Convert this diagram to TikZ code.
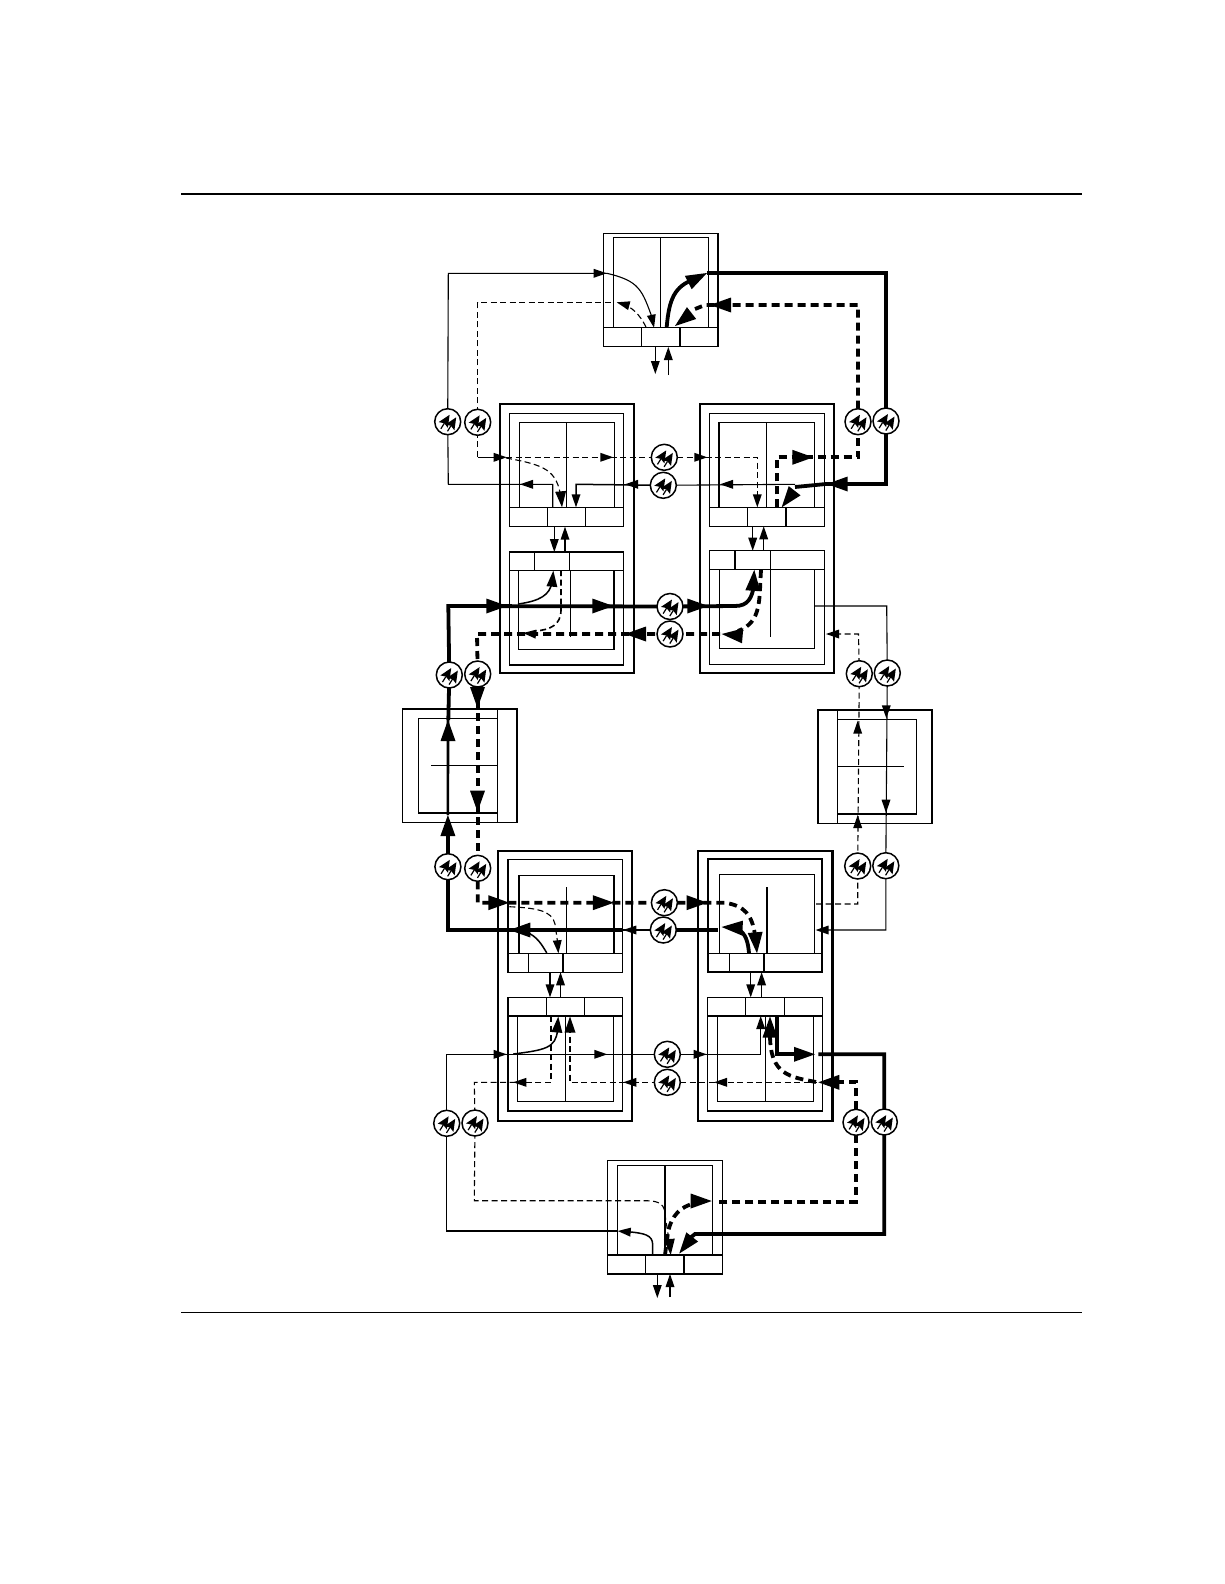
\documentclass[tikz,border=0pt]{standalone}
\usetikzlibrary{calc}
\tikzset{x=1pt,y=-1pt,
 thinl/.style={line width=1.1pt},
 thind/.style={line width=1.1pt,dash pattern=on 6pt off 3.5pt},
 medl/.style={line width=1.5pt},
 medd/.style={line width=1.6pt,dash pattern=on 6pt off 3.5pt},
 fatl/.style={line width=3.8pt},
 fatd/.style={line width=3.8pt,dash pattern=on 8pt off 5pt},
 ampc/.style={circle,draw,line width=1.5pt,fill=white,minimum size=26pt,inner sep=0pt,outer sep=0pt},
 boxn/.style={draw,inner sep=0pt,outer sep=0pt,line join=miter}
}
\newcommand\bx[6]{\node[boxn,line width=#6,minimum width={(#4-#2)*1pt},minimum height={(#5-#3)*1pt}] (#1) at ({(#2+#4)/2},{(#3+#5)/2}) {};}
\newcommand\hd[5]{\fill[shift={(#1)},rotate=#2] (0,0)--(-#3,#4/2)--(-#3,-#4/2)--cycle;}
\newcommand\hdT[2]{\hd{#1}{#2}{13}{9}{}}
\newcommand\hdM[2]{\hd{#1}{#2}{16}{11}{}}
\newcommand\hdF[2]{\hd{#1}{#2}{21}{15}{}}
\newcommand\ampn[2]{\node[ampc] (#1) at (#2) {};
 \begin{scope}[shift={(#1.center)}]
 \foreach \ox/\oy in {-2.6/0.3,4/2.8}{
 \begin{scope}[shift={(\ox,\oy)},rotate=58]
 \fill (8.5,0)--(-3.5,5.4)--(-1.5,0)--(-3.5,-5.4)--cycle;
 \draw[line width=1.2pt] (-1.5,0)--(-8,0);
 \end{scope}}
 \end{scope}}
\begin{document}
\begin{tikzpicture}
\useasboundingbox (0,0) rectangle (1224,1584);
\fill[white] (0,0) rectangle (1224,1584);
% page rules
\coordinate (rtl) at (181,194); \coordinate (rtr) at (1082,194);
\draw[line width=1.6pt] (rtl)--(rtr);
\coordinate (rbl) at (181,1312.7); \coordinate (rbr) at (1082,1312.7);
\draw[line width=0.9pt] (rbl)--(rbr);

% ---- top terminal
\bx{tO}{603.3}{233.3}{718}{346.7}{1.1pt}
\bx{tI}{613.3}{237.7}{708.3}{327.7}{1.4pt}
\draw[line width=1.5pt] (603.3,327.7)--(718,327.7) (660.7,237.7)--(660.7,327.7)
 (641.7,327.7)--(641.7,346.7) (680,327.7)--(680,346.7);
% ---- bottom terminal
\bx{bO}{607.3}{1160.3}{722.3}{1274}{1.1pt}
\bx{bI}{617.7}{1165.3}{712.3}{1255}{1.4pt}
\draw[line width=1.5pt] (607.3,1255)--(722.3,1255) (665,1165.3)--(665,1255)
 (645.7,1255)--(645.7,1274) (684,1255)--(684,1274);

% ---- upper left unit
\bx{ulO}{500}{404}{633.7}{673.3}{2.2pt}
\bx{ulMa}{509.3}{413.3}{623.3}{526.7}{1.2pt}
\bx{ulMb}{509.3}{552}{623.3}{665}{1.2pt}
\draw[line width=1.2pt] (509.3,507.3)--(623.3,507.3) (509.3,570.7)--(623.3,570.7);
\draw[line width=1.2pt] (547.3,507.3)--(547.3,526.7) (585.7,507.3)--(585.7,526.7)
 (534.7,552)--(534.7,570.7) (569.7,552)--(569.7,570.7);
\draw[line width=1.3pt] (519.3,507.3)--(519.3,422.7)--(614.3,422.7)--(614.3,507.3) (566.7,422.7)--(566.7,507.3);
\draw[line width=1.1pt] (518.7,570.7)--(518.7,649.3)--(614,649.3)--(614,570.7);
\draw[line width=1.3pt] (570.7,570.7)--(570.7,636.7);
% ---- upper right unit
\bx{urO}{700}{404}{833.7}{673.3}{2.2pt}
\bx{urMa}{709.3}{413.3}{824.3}{526.3}{1.2pt}
\bx{urMb}{709.3}{550.7}{824.3}{664.3}{1.2pt}
\draw[line width=1.2pt] (709.3,507.3)--(824.3,507.3) (709.3,569.3)--(824.3,569.3);
\draw[line width=1.2pt] (747.3,507.3)--(747.3,526.3) (786,507.3)--(786,526.3)
 (735,550.7)--(735,569.3) (770.7,550.7)--(770.7,569.3);
\draw[line width=1.3pt] (719,507.3)--(719,422.7)--(814.7,422.7)--(814.7,507.3);
\draw[line width=0.9pt] (766.7,422.7)--(766.7,507.3);
\draw[line width=1.1pt] (719.7,569.3)--(719.7,648.3)--(814.7,648.3)--(814.7,569.3);
\draw[line width=0.9pt] (770.7,569.3)--(770.7,636.7);
% ---- lower left unit
\bx{llO}{498}{851}{632.3}{1120.7}{2.2pt}
\bx{llMa}{508}{859.3}{622.3}{972.3}{1.1pt}
\bx{llMb}{508}{997.3}{622.3}{1111}{1.5pt}
\draw[line width=1.1pt] (508,953.3)--(622.3,953.3) (508,1016)--(622.3,1016);
\draw[line width=1.1pt] (528.2,953.3)--(528.2,972.3) (563,953.3)--(563,972.3)
 (546.7,997.3)--(546.7,1016) (584.3,997.3)--(584.3,1016);
\draw[line width=1.2pt] (519,953.3)--(519,875.3)--(613.9,875.3)--(613.9,953.3);
\draw[line width=0.9pt] (566.5,887.3)--(566.5,953.3);
\draw[line width=1.2pt] (517.7,1016)--(517.7,1101.3)--(613.3,1101.3)--(613.3,1016);
\draw[line width=0.9pt] (565.7,1016)--(565.7,1101.3);
% ---- lower right unit
\bx{lrO}{698}{851}{832.3}{1120.7}{2.4pt}
\bx{lrMa}{707.7}{859}{822.3}{972.3}{1.7pt}
\bx{lrMb}{707.7}{997.3}{822.3}{1111}{1.5pt}
\draw[line width=1.1pt] (707.7,953.3)--(822.3,953.3) (707.7,1016)--(822.3,1016);
\draw[line width=1.1pt] (729.3,953.3)--(729.3,972.3) (764,953.3)--(764,972.3)
 (745.7,997.3)--(745.7,1016) (784.3,997.3)--(784.3,1016);
\draw[line width=0.9pt] (719.8,953.3)--(719.8,874.3)--(814.6,874.3)--(814.6,953.3);
\draw[line width=1.3pt] (767,887.3)--(767,953.3);
\draw[line width=1.2pt] (717.3,1016)--(717.3,1101.3)--(813.3,1101.3)--(813.3,1016);
\draw[line width=0.9pt] (765.3,1016)--(765.3,1101.3);
% ---- left side box
\bx{lsO}{402.3}{709}{517}{822.3}{1.2pt}
\bx{lsI}{418.8}{718.3}{497.7}{813}{1.3pt}
\draw[line width=1.3pt] (497.7,709)--(497.7,822.3);
\draw[line width=0.8pt] (431.4,765.3)--(497.7,765.3);
% ---- right side box
\bx{rsO}{818}{710}{932}{823.3}{1.4pt}
\bx{rsI}{837.4}{719.3}{916.3}{814}{1.3pt}
\draw[line width=1.3pt] (837.4,710)--(837.4,823.3);
\draw[line width=0.8pt] (837.4,766.3)--(904,766.3);

% ---- amplifier positions
\coordinate (a1) at (447.7,421.7); \coordinate (a2) at (477.7,422.3);
\coordinate (a3) at (858,421.7); \coordinate (a4) at (886,421);
\coordinate (a5) at (664.3,457.3); \coordinate (a6) at (663.3,485.3);
\coordinate (a7) at (670,606.5); \coordinate (a8) at (670,634);
\coordinate (a9) at (449.3,675); \coordinate (a10) at (477.7,674);
\coordinate (a11) at (859.3,673.7); \coordinate (a12) at (887.3,673);
\coordinate (a13) at (447.9,866.7); \coordinate (a14) at (477.7,868.3);
\coordinate (a15) at (857.7,866); \coordinate (a16) at (885.8,865.7);
\coordinate (a17) at (664.4,902.7); \coordinate (a18) at (663.3,930);
\coordinate (a19) at (667.3,1054.3); \coordinate (a20) at (667.3,1082.3);
\coordinate (a21) at (446.7,1123.3); \coordinate (a22) at (475,1123);
\coordinate (a23) at (856,1122.3); \coordinate (a24) at (884.3,1122);

% ---- add/drop stubs
\draw[thinl] (655.3,346.7)--(655.3,364); \hdT{655.3,374}{-90}
\draw[thinl] (668.3,375)--(668.3,355); \hdT{668.3,347}{90}
\draw[thinl] (657.3,1274)--(657.3,1288); \hdT{657.3,1298}{-90}
\draw[medl] (670,1297)--(670,1284); \hdT{670,1274}{90}
\draw[medl] (554.3,526.7)--(554.3,542); \hdT{554.3,552}{-90}
\draw[medl] (565,552)--(565,536); \hdT{565,526.7}{90}
\draw[medl] (752.7,526.3)--(752.7,541); \hdT{752.7,550.7}{-90}
\draw[thinl] (763.7,550.7)--(763.7,536); \hdT{763.7,526.3}{90}
\draw[medl] (550,972.3)--(550,987); \hdT{550,997.3}{-90}
\draw[thinl] (560.5,997.3)--(560.5,982); \hdT{560.5,972.3}{90}
\draw[medl] (750.7,972.3)--(750.7,987); \hdT{750.7,997.3}{-90}
\draw[thinl] (761.6,997.3)--(761.6,982); \hdT{761.6,972.3}{90}

% ---- top loop
\draw[thinl] (a1)--(448.3,273.3)--(606.7,273.3) .. controls (640,281) and (642,290) .. (653,320);
\hdT{606.7,273.3}{0} \hdT{654,327.7}{-78}
\draw[thind] (a2)--(477.7,302.3)--(612,302.3);
\draw[thind] (646,327) .. controls (640,315) and (632,306) .. (620,303.5); \hdT{616.7,302.3}{165}
\draw[thind] (a2)--(477.7,457.3)--(500,457.3);
\draw[thind] (506,458) .. controls (545,465) and (557,470) .. (561,498);
\hdT{506.7,457.3}{0} \hdM{562,507.3}{-85}
\draw[thind] (477.7,457.3)--(a5)--(757.3,457.3)--(757.3,500); \hdT{613.3,457.3}{0} \hdT{707.3,457.3}{0} \hdT{757.3,507.3}{-90}
\draw[thinl] (a1)--(448.3,484.3)--(552.7,484.3)--(552.7,507.3); \hdT{520,484.3}{180}
\draw[medl] (576,500)--(576,484.3)--(a6); \hdT{576,507.3}{-90} \hdT{625,484.3}{180}
\draw[thinl] (a6)--(795,484.3); \hdT{720,484.3}{180}
\draw[fatl,line join=miter] (a4)--(886,272.7)--(706.7,272.7);
\draw[fatl] (666.7,327) .. controls (669,300) and (674,286) .. (695,279);
\hdF{707,273}{27}
\draw[fatl,line join=miter] (a4)--(886,484)--(826,484)--(795,487);
\hdF{826.7,484}{180} \hdF{781.7,507.3}{-128}
\draw[fatd] (a3)--(858,305)--(705,305)--(695,309);
\hdF{710,305}{180} \hdF{675,326}{-142}
\draw[fatd] (776.7,507.3)--(776.7,457.3)--(858,457.3)--(a3);
\hdF{813.3,457.3}{0}

% ---- middle upper row
\draw[fatl,line join=miter] (a9)--(448.3,606)--(a7)--(735,606) .. controls (748,606) and (752,598) .. (754,585);
\hdF{507.3,606}{0} \hdF{613.3,606}{0} \hdF{708.3,606}{0} \hdF{754.3,569.8}{86}
\draw[medl] (518,604) .. controls (540,601) and (550,595) .. (552,582); \hdM{553.3,570.7}{85}
\draw[fatd] (761,570) .. controls (759,600) and (762,622) .. (738,631);
\hdF{721.7,634}{175}
\draw[fatd] (720,634)--(a8)--(477,634)--(a10);
\hdF{625,634}{180}
\draw[medd] (561,570)--(561,610) .. controls (561,625) and (550,630) .. (535,631); \hdT{523,633}{175}
% ---- through left box
\draw[fatd] (a10)--(a14); \hdF{477.5,708}{-90} \hdF{477.5,811.7}{-90}
\draw[fatl] (a9)--(448.3,720);
\draw[line width=2.6pt] (448,720)--(447.9,815);
\draw[fatl] (a13)--(447.9,820);
\hdF{448,720}{90} \hdF{447.9,815}{90}
% ---- right upper
\draw[thinl] (815,606)--(886.7,606)--(a12)--(a16)--(885.8,930)--(820,930);
\hdT{886.3,718.3}{-90} \hdT{886,812.7}{-90} \hdT{815.6,930}{180}
\draw[thind] (a11)--(858.5,634)--(830,634); \hdT{826,634}{180}
\draw[thind] (a11)--(a15)--(857.7,904)--(814.6,904);
\hdT{857.7,720.7}{90} \hdT{857.7,815}{90}
% ---- lower middle rows
\draw[fatd] (a14)--(477.7,902.7)--(a17)--(725,902.7) .. controls (745,906) and (752,915) .. (755,935);
\draw[fatl,line join=miter] (a13)--(447.9,930)--(623,930);
\hdF{509.3,902.7}{0} \hdF{613.9,902.7}{0} \hdF{707.5,902.7}{0} \hdF{757,953.3}{-85}
\hdF{509.3,930}{180}
\draw[thinl] (623,930)--(a18); \hdT{623.3,930}{180}
\draw[fatl] (a18)--(718,930);
\hdF{721.6,927}{177}
\draw[fatl] (749,953) .. controls (748,942) and (746,934) .. (738,929);
\draw[medl] (546.8,953) .. controls (542,945) and (537,936) .. (526,932);
\draw[thind] (509.3,906.7) .. controls (535,908) and (552,910) .. (555,924)--(558,945);
\hdT{558.4,953.3}{-85}
% ---- lower unit rows
\draw[thinl] (a21)--(446.7,1054.3)--(a19)--(760.7,1054.3)--(760.7,1025);
\hdT{506.7,1054.3}{0} \hdT{607.3,1054.3}{0} \hdT{706.7,1054.3}{0} \hdT{760.7,1016}{90}
\draw[medl] (513.3,1054) .. controls (545,1050) and (556,1048) .. (557.5,1030); \hdM{558.3,1016.5}{85}
\draw[thind] (a22)--(474.3,1082.3)--(520,1082.3); \hdT{513.3,1082.3}{180}
\draw[medd] (551,1016)--(551,1082.3)--(520,1082.3);
\draw[medd] (570,1027)--(570,1082.3)--(623,1082.3); \hdM{570,1016.5}{90}
\draw[thind] (623,1082.3)--(a20)--(816.7,1082.3); \hdT{623.3,1082.3}{180} \hdT{714,1082.3}{180}
\draw[fatd] (a23)--(856,1082.3)--(825,1082.3);
\hdF{818.3,1082.3}{180}
\draw[fatd] (816,1082) .. controls (790,1077) and (770,1075) .. (770,1035);
\hdF{770,1016.5}{90}
\draw[fatl,line join=miter] (776.7,1016)--(776.7,1054.3)--(800,1054.3);
\hdF{815,1054.3}{0}
\draw[fatl,line join=miter] (818.3,1054.3)--(884.3,1054.3)--(a24)--(884.3,1234)--(695,1234)--(690,1238);
\hdF{679.3,1253.5}{-128}
\draw[fatd] (a23)--(856,1201.7)--(715,1201.7);
\hdF{711.7,1201}{0}
\draw[fatd] (665,1255) -- (668,1232) .. controls (672,1215) and (680,1207) .. (695,1203);
\draw[thind] (a22)--(474.3,1200.7)--(646,1200.7) .. controls (660,1200.7) and (665,1205) .. (665,1215)--(669,1240);
\hdM{670.7,1255}{-85}
\draw[thinl] (a21)--(446.7,1231)--(617,1231);
\draw[medl] (652.7,1255)--(652.7,1245) .. controls (652.7,1235) and (645,1233) .. (625,1231.5); \hdT{617.7,1231}{175}

% ---- amplifiers on top
\foreach \n in {1,...,24}{\ampn{A\n}{a\n}}
\end{tikzpicture}
\end{document}
